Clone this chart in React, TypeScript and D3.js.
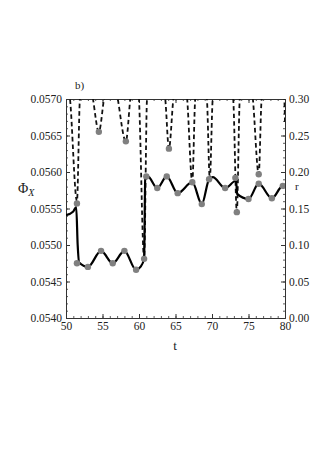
import React, { useRef, useEffect } from 'react';
import * as d3 from 'd3';

// solid curve: Phi_X against t (left axis)
const phiT = [50, 51.0, 51.4, 51.6, 51.8, 53.0, 54.8, 56.4, 58.0, 59.6, 60.2, 60.7, 60.85, 61.2, 62.5, 63.8, 65.3, 67.3, 68.6, 69.6, 70.1, 71.8, 73.3, 73.45, 75.0, 76.4, 78.2, 79.7, 80];
const phiV = [0.05541, 0.05546, 0.05552, 0.0550, 0.05476, 0.0547, 0.05492, 0.05475, 0.05492, 0.05466, 0.0547, 0.05481, 0.0559, 0.05594, 0.05578, 0.05594, 0.05571, 0.05586, 0.05556, 0.0559, 0.05593, 0.05578, 0.05588, 0.0557, 0.05563, 0.05584, 0.05564, 0.05581, 0.0558];

// dashed curve: r against t (right axis), goes above the frame between the dips
const rT = [50, 50.55, 51.5, 51.9, 52.8, 53.7, 54.5, 55.2, 56.2, 57.1, 58.2, 58.8, 59.4, 60.0, 60.7, 61.1, 62.4, 63.6, 64.1, 64.7, 65.6, 66.6, 67.3, 67.7, 68.5, 69.3, 69.7, 70.1, 71.5, 72.9, 73.4, 73.8, 74.7, 75.6, 76.4, 76.8, 78.3, 79.9, 80];
const rV = [0.34, 0.30, 0.16, 0.30, 0.36, 0.30, 0.255, 0.30, 0.36, 0.30, 0.242, 0.30, 0.36, 0.30, 0.081, 0.30, 0.36, 0.30, 0.232, 0.30, 0.36, 0.30, 0.186, 0.30, 0.34, 0.30, 0.19, 0.30, 0.36, 0.30, 0.145, 0.30, 0.36, 0.30, 0.197, 0.30, 0.36, 0.30, 0.265];

// grey markers
const dotPhiT = [51.5, 51.5, 53.0, 54.8, 56.4, 58.0, 59.6, 60.7, 61.0, 62.5, 63.8, 65.3, 67.3, 68.6, 69.6, 71.8, 73.2, 75.0, 76.4, 78.2, 79.7];
const dotPhiV = [0.05557, 0.05475, 0.0547, 0.05492, 0.05475, 0.05492, 0.05466, 0.05481, 0.05594, 0.05578, 0.05594, 0.05571, 0.05586, 0.05556, 0.0559, 0.05578, 0.05592, 0.05563, 0.05584, 0.05564, 0.05581];
const dotRT = [54.5, 58.2, 64.1, 73.4, 76.4];
const dotRV = [0.255, 0.242, 0.232, 0.145, 0.197];

const xTicks = [50, 55, 60, 65, 70, 75, 80];
const leftTicks = [0.054, 0.0545, 0.055, 0.0555, 0.056, 0.0565, 0.057];
const rightTicks = [0, 0.05, 0.1, 0.15, 0.2, 0.25, 0.3];

const W = 323;
const H = 456;
const L = 66, R = 285, T = 99, B = 318;

const App = () => {
  const svgRef = useRef(null);

  useEffect(() => {
    const svg = d3.select(svgRef.current);
    svg.selectAll('*').remove();

    const x = d3.scaleLinear().domain([50, 80]).range([L, R]);
    const yL = d3.scaleLinear().domain([0.054, 0.057]).range([B, T]);
    const yR = d3.scaleLinear().domain([0, 0.3]).range([B, T]);

    svg.append('defs').append('clipPath').attr('id', 'plot')
      .append('rect').attr('x', L).attr('y', T).attr('width', R - L).attr('height', B - T);

    const font = "'Liberation Serif', 'Times New Roman', Times, serif";
    const axisStyle = (g, major) => {
      g.attr('font-family', font).attr('font-size', 11.5);
      g.selectAll('.domain').attr('stroke', '#333').attr('stroke-width', 1);
      g.selectAll('.tick line').attr('stroke', '#333').attr('stroke-width', major ? 1 : 0.8);
      g.selectAll('.tick text').attr('fill', '#222');
    };

    const minorX = d3.range(50, 81, 1);
    const minorL = d3.range(0, 31).map((i) => 0.054 + i * 0.0001);
    const minorR = d3.range(0, 31).map((i) => i * 0.01);

    // bottom
    svg.append('g').attr('transform', `translate(0,${B})`)
      .call(d3.axisBottom(x).tickValues(minorX).tickFormat(() => '').tickSize(-2).tickSizeOuter(0))
      .call((g) => axisStyle(g, false));
    svg.append('g').attr('transform', `translate(0,${B})`)
      .call(d3.axisBottom(x).tickValues(xTicks).tickFormat(d3.format('d')).tickSize(-4).tickSizeOuter(0).tickPadding(4))
      .call((g) => axisStyle(g, true));
    // top
    svg.append('g').attr('transform', `translate(0,${T})`)
      .call(d3.axisTop(x).tickValues(minorX).tickFormat(() => '').tickSize(-2).tickSizeOuter(0))
      .call((g) => axisStyle(g, false));
    svg.append('g').attr('transform', `translate(0,${T})`)
      .call(d3.axisTop(x).tickValues(xTicks).tickFormat(() => '').tickSize(-4).tickSizeOuter(0))
      .call((g) => axisStyle(g, true));
    // left
    svg.append('g').attr('transform', `translate(${L},0)`)
      .call(d3.axisLeft(yL).tickValues(minorL).tickFormat(() => '').tickSize(-2).tickSizeOuter(0))
      .call((g) => axisStyle(g, false));
    svg.append('g').attr('transform', `translate(${L},0)`)
      .call(d3.axisLeft(yL).tickValues(leftTicks).tickFormat(d3.format('.4f')).tickSize(-4).tickSizeOuter(0).tickPadding(4))
      .call((g) => axisStyle(g, true));
    // right
    svg.append('g').attr('transform', `translate(${R},0)`)
      .call(d3.axisRight(yR).tickValues(minorR).tickFormat(() => '').tickSize(-2).tickSizeOuter(0))
      .call((g) => axisStyle(g, false));
    svg.append('g').attr('transform', `translate(${R},0)`)
      .call(d3.axisRight(yR).tickValues(rightTicks).tickFormat(d3.format('.2f')).tickSize(-4).tickSizeOuter(0).tickPadding(4))
      .call((g) => axisStyle(g, true));

    const plot = svg.append('g').attr('clip-path', 'url(#plot)');

    const rLine = d3.line().x((d) => x(d[0])).y((d) => yR(d[1])).curve(d3.curveMonotoneX);
    plot.append('path')
      .datum(rT.map((t, i) => [t, rV[i]]))
      .attr('d', rLine)
      .attr('fill', 'none')
      .attr('stroke', '#111')
      .attr('stroke-width', 1.8)
      .attr('stroke-dasharray', '4.5,3');

    const phiLine = d3.line().x((d) => x(d[0])).y((d) => yL(d[1])).curve(d3.curveMonotoneX);
    plot.append('path')
      .datum(phiT.map((t, i) => [t, phiV[i]]))
      .attr('d', phiLine)
      .attr('fill', 'none')
      .attr('stroke', '#000')
      .attr('stroke-width', 2.2);

    plot.selectAll('.dp').data(dotPhiT.map((t, i) => [t, dotPhiV[i]])).enter()
      .append('circle').attr('class', 'dp')
      .attr('cx', (d) => x(d[0])).attr('cy', (d) => yL(d[1])).attr('r', 3.2)
      .attr('fill', '#808080');
    plot.selectAll('.dr').data(dotRT.map((t, i) => [t, dotRV[i]])).enter()
      .append('circle').attr('class', 'dr')
      .attr('cx', (d) => x(d[0])).attr('cy', (d) => yR(d[1])).attr('r', 3.2)
      .attr('fill', '#808080');

    const label = (xx, yy, txt, size, anchor = 'start') =>
      svg.append('text').attr('x', xx).attr('y', yy).attr('text-anchor', anchor).text(txt)
        .attr('font-family', font).attr('font-size', size).attr('fill', '#222');

    label(75, 89, 'b)', 11);
    label(175, 350, 't', 13, 'middle');
    label(295, 190, 'r', 11);
    const phi = svg.append('text').attr('x', 18).attr('y', 193)
      .attr('font-family', font).attr('font-size', 14).attr('fill', '#222');
    phi.append('tspan').text('Φ');
    phi.append('tspan').attr('dy', 3).attr('font-size', 10).attr('font-style', 'italic').text('X');
  }, []);

  return (
    <svg ref={svgRef} width={W} height={H}
      style={{ position: 'absolute', left: 0, top: 0, background: '#fff', display: 'block' }} />
  );
};

export default App;
